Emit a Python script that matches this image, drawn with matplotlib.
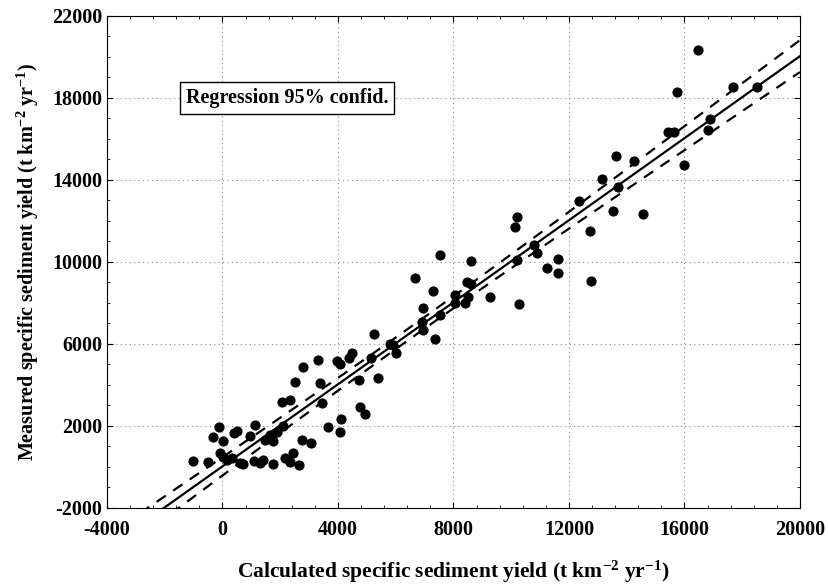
import numpy as np
import matplotlib
matplotlib.use('Agg')
import matplotlib.pyplot as plt
from matplotlib.ticker import FixedLocator, MultipleLocator

# calculated vs measured specific sediment yield (t km-2 yr-1)
calculated = [
    -120, -330, 20, 400, 500, 950, 1130, 2100, 1890, 1650, 1750, 1470,
    -90, 20, 160, 330, -1020, -500, 610, 710, 1090, 1300, 1400, 1750,
    2750, 3070, 2440, 2160, 2340, 2650, 2060, 2340, 3450, 4760, 4940, 4100,
    3650, 4070, 5250, 4490, 4380, 3970, 4070, 3310, 2790, 2510, 3380, 4730,
    5390, 5150, 5900, 6010, 7530, 8610, 6670, 7290, 8050, 8470, 8610, 8500,
    8050, 8400, 9260, 6940, 7530, 6910, 6940, 7360, 5800, 10270, 10200, 10130,
    10790, 10890, 10200, 11620, 11240, 11620, 12760, 12730, 12350, 13520, 13140, 13700,
    14560, 13630, 14250, 15980, 15430, 15640, 16810, 16880, 15740, 17680, 18510, 16470,
]
measured = [
    1950, 1460, 1270, 1660, 1760, 1510, 2050, 2000, 1710, 1560, 1270, 1320,
    680, 490, 340, 440, 290, 240, 200, 150, 290, 200, 340, 150,
    1320, 1170, 680, 440, 240, 100, 3170, 3270, 3120, 2930, 2590, 2340,
    1950, 1710, 6490, 5560, 5320, 5170, 5030, 5220, 4880, 4150, 4100, 4240,
    4340, 5330, 5950, 5560, 10340, 10050, 9220, 8590, 8390, 9020, 8930, 8290,
    8000, 8000, 8290, 7760, 7420, 7070, 6680, 6240, 6000, 7950, 12200, 11710,
    10830, 10440, 10100, 10150, 9710, 9460, 9070, 11510, 12980, 12490, 14050, 13660,
    12340, 15170, 14930, 14730, 16340, 16340, 16440, 16980, 18290, 18540, 18540, 20340,
]
x_ticks = [-4000, 0, 4000, 8000, 12000, 16000, 20000]
y_ticks = [-2000, 2000, 6000, 10000, 14000, 18000, 22000]

x = np.array(calculated, dtype=float)
y = np.array(measured, dtype=float)

# least squares fit with 95% confidence band of the mean
n = len(x)
slope, intercept = np.polyfit(x, y, 1)
resid = y - (slope * x + intercept)
s = np.sqrt(np.sum(resid ** 2) / (n - 2))
xx = np.linspace(-4000, 20000, 200)
yy = slope * xx + intercept
se = s * np.sqrt(1.0 / n + (xx - x.mean()) ** 2 / np.sum((x - x.mean()) ** 2))
t = 1.985
lower = yy - t * se
upper = yy + t * se

plt.rcParams['font.family'] = ['Liberation Serif', 'DejaVu Serif']
plt.rcParams['font.weight'] = 'bold'
plt.rcParams['axes.unicode_minus'] = False
plt.rcParams['mathtext.fontset'] = 'custom'
plt.rcParams['mathtext.rm'] = 'Liberation Serif:bold'
plt.rcParams['mathtext.default'] = 'rm'

fig = plt.figure(figsize=(8.29, 5.85), dpi=100)
ax = fig.add_axes([0.129, 0.132, 0.836, 0.841])

ax.grid(True, which='major', linestyle=(0, (1, 3)), color='#888888', linewidth=0.8)
ax.plot(xx, yy, color='black', linewidth=1.6)
ax.plot(xx, lower, color='black', linewidth=1.6, linestyle=(0, (5, 4)))
ax.plot(xx, upper, color='black', linewidth=1.6, linestyle=(0, (5, 4)))
ax.scatter(x, y, s=40, color='black', zorder=3)

ax.set_xlim(-4000, 20000)
ax.set_ylim(-2000, 22000)
ax.xaxis.set_major_locator(FixedLocator(x_ticks))
ax.yaxis.set_major_locator(FixedLocator(y_ticks))
ax.xaxis.set_minor_locator(MultipleLocator(800))
ax.yaxis.set_minor_locator(MultipleLocator(1000))
ax.tick_params(which='both', direction='in', top=True, right=True, labelsize=14.5)
ax.tick_params(which='major', length=4)
ax.tick_params(which='minor', length=2)
ax.tick_params(axis='x', which='major', pad=9)
for lab in ax.get_xticklabels() + ax.get_yticklabels():
    lab.set_fontweight('bold')

ax.set_xlabel(r'Calculated specific sediment yield (t km$^{-2}$ yr$^{-1}$)',
              fontsize=15.5, fontweight='bold', labelpad=13)
ax.set_ylabel(r'Measured specific sediment yield (t km$^{-2}$ yr$^{-1}$)',
              fontsize=14.5, fontweight='bold', labelpad=8)

ax.text(0.26, 0.833, 'Regression 95% confid.', transform=ax.transAxes,
        ha='center', va='center', fontsize=14.5, fontweight='bold',
        bbox=dict(boxstyle='square,pad=0.3', facecolor='white', edgecolor='black', linewidth=1))

fig.savefig('out.png', dpi=100)
